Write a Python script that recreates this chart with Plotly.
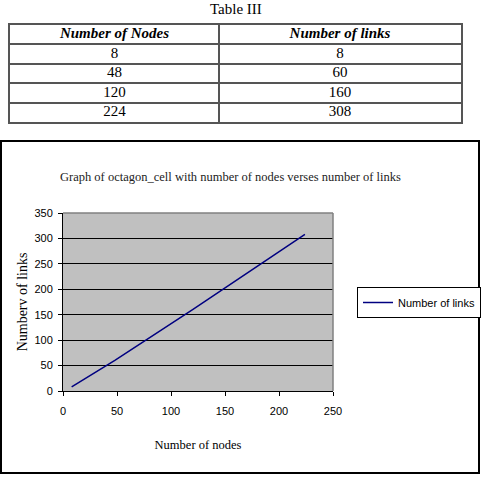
import plotly.graph_objects as go

nodes = [8, 48, 120, 224]
links = [8, 60, 160, 308]
col_headers = ["Number of Nodes", "Number of links"]
table_title = "Table III"
chart_title = "Graph of octagon_cell with number of nodes verses number of links"
x_title = "Number of nodes"
y_title = "Numberv of links"
series_name = "Number of links"

W = H = 483

def px_x(v):
    return v / W

def px_y(v):
    return 1 - v / H

# table column layout (fractions of table width)
col_div = 209 / 451
col_centers = [col_div / 2, (1 + col_div) / 2]
n_rows = len(nodes) + 1

fig = go.Figure()

# table: header and cells as text on a dedicated pair of axes
for ci, (hdr, col) in enumerate(zip(col_headers, [nodes, links])):
    fig.add_trace(go.Scatter(
        x=[col_centers[ci]] * n_rows,
        y=[0.5 + r for r in range(n_rows)],
        text=["<b><i>%s</i></b>" % hdr] + [str(v) for v in col],
        mode="text",
        textposition="middle center",
        textfont=dict(family="Liberation Serif", size=15, color="black"),
        xaxis="x2", yaxis="y2",
        showlegend=False, hoverinfo="skip",
    ))

fig.add_trace(go.Scatter(
    x=nodes, y=links, mode="lines", name=series_name,
    line=dict(color="#000080", width=1.5),
    xaxis="x", yaxis="y",
))

fig.update_layout(
    width=W, height=H,
    autosize=False,
    margin=dict(l=0, r=0, t=0, b=0, pad=0, autoexpand=False),
    paper_bgcolor="white",
    plot_bgcolor="#c0c0c0",
    showlegend=True,
    legend=dict(
        x=px_x(357), y=px_y(287), xanchor="left", yanchor="top",
        bordercolor="black", borderwidth=1, bgcolor="white",
        font=dict(family="Liberation Sans", size=11, color="black"),
        itemwidth=30,
    ),
    xaxis=dict(
        domain=[px_x(63), px_x(333)],
        anchor="y", automargin=False,
        range=[0, 250], dtick=50,
        showgrid=False, zeroline=False,
        showline=True, linecolor="black", linewidth=1,
        ticks="outside", ticklen=4, tickcolor="black",
        ticklabelstandoff=6,
        tickfont=dict(family="Liberation Sans", size=11, color="black"),
        title=dict(text=x_title, font=dict(family="Liberation Serif", size=12.5, color="black"), standoff=24),
    ),
    yaxis=dict(
        domain=[px_y(391), px_y(213)],
        anchor="x", automargin=False,
        range=[0, 350], dtick=50,
        showgrid=True, gridcolor="black", gridwidth=1,
        zeroline=False,
        showline=True, linecolor="black", linewidth=1,
        ticks="outside", ticklen=4, tickcolor="black",
        ticklabelstandoff=3,
        tickfont=dict(family="Liberation Sans", size=11, color="black"),
        title=dict(text=y_title, font=dict(family="Liberation Serif", size=14, color="black"), standoff=3),
    ),
    xaxis2=dict(
        domain=[px_x(10), px_x(461)],
        anchor="y2", automargin=False,
        range=[0, 1], fixedrange=True,
        tickvals=[col_div], showticklabels=False, ticks="",
        showgrid=True, gridcolor="#555555", gridwidth=1.5,
        zeroline=False,
        showline=True, mirror=True, linecolor="#555555", linewidth=2,
    ),
    yaxis2=dict(
        domain=[px_y(122), px_y(25)],
        anchor="x2", automargin=False,
        range=[n_rows, 0], fixedrange=True,
        tickvals=list(range(1, n_rows)), showticklabels=False, ticks="",
        showgrid=True, gridcolor="#555555", gridwidth=1.5,
        zeroline=False,
        showline=True, mirror=True, linecolor="#555555", linewidth=2,
    ),
    annotations=[
        dict(text=table_title, x=px_x(236), y=px_y(9), xref="paper", yref="paper",
             showarrow=False, xanchor="center", yanchor="middle",
             font=dict(family="Liberation Serif", size=15, color="black")),
        dict(text=chart_title, x=px_x(230), y=px_y(177), xref="paper", yref="paper",
             showarrow=False, xanchor="center", yanchor="middle",
             font=dict(family="Liberation Serif", size=12.5, color="#222222")),
    ],
    shapes=[
        # white background for the table subplot
        dict(type="rect", xref="x2 domain", yref="y2 domain",
             x0=0, x1=1, y0=0, y1=1, layer="below",
             line=dict(width=0), fillcolor="white"),
        # chart frame
        dict(type="rect", xref="paper", yref="paper",
             x0=px_x(1), x1=px_x(479), y0=px_y(473), y1=px_y(141),
             line=dict(color="black", width=2), fillcolor="rgba(0,0,0,0)"),
        # grey top/right edges of the plot area
        dict(type="line", xref="x domain", yref="y domain",
             x0=0, x1=1, y0=1, y1=1, layer="above",
             line=dict(color="#808080", width=1.5)),
        dict(type="line", xref="x domain", yref="y domain",
             x0=1, x1=1, y0=0, y1=1, layer="above",
             line=dict(color="#808080", width=1.5)),
    ],
)

fig.write_html("out.html")
